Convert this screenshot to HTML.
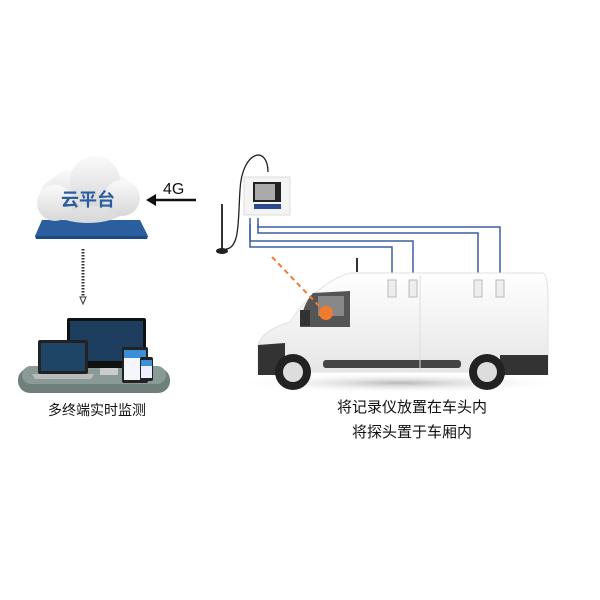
<!DOCTYPE html>
<html><head><meta charset="utf-8"><style>
html,body{margin:0;padding:0;background:#fff;}
svg{display:block;}
text{font-family:"Liberation Sans","Noto Sans CJK SC",sans-serif;}
</style></head><body>
<svg width="600" height="600" viewBox="0 0 600 600" xmlns="http://www.w3.org/2000/svg">
<defs>
<linearGradient id="cl" x1="0" y1="0" x2="0" y2="1"><stop offset="0" stop-color="#fafafa"/><stop offset="1" stop-color="#d8d8d8"/></linearGradient>
<linearGradient id="vb" x1="0" y1="0" x2="0" y2="1"><stop offset="0" stop-color="#ffffff"/><stop offset="1" stop-color="#e6e6e6"/></linearGradient>
<radialGradient id="sh" cx="0.5" cy="0.5" r="0.5"><stop offset="0" stop-color="#888" stop-opacity="0.6"/><stop offset="1" stop-color="#fff" stop-opacity="0"/></radialGradient>
</defs>
<polygon points="42,220 140,220 148,236 35,236" fill="#2b5e9e"/>
<polygon points="35,236 148,236 147,239 36,239" fill="#1d4a82"/>
<g fill="url(#cl)">
<ellipse cx="88" cy="196" rx="48" ry="27"/>
<circle cx="70" cy="190" r="20"/>
<circle cx="95" cy="181" r="25"/>
<circle cx="122" cy="198" r="18"/>
<circle cx="55" cy="203" r="18"/>
</g>
<text x="88" y="206" font-size="18" font-weight="bold" fill="#2b5e9e" text-anchor="middle">云平台</text>
<line x1="196" y1="200" x2="153" y2="200" stroke="#111" stroke-width="2.5"/>
<polygon points="146,200 156,194 156,206" fill="#111"/>
<text x="163" y="194" font-size="16" fill="#111">4G</text>
<line x1="83" y1="249" x2="83" y2="297" stroke="#333" stroke-width="3" stroke-dasharray="1.5,1.5"/>
<polygon points="80,297 86,297 83,304" fill="none" stroke="#333" stroke-width="1"/>
<rect x="18" y="368" width="152" height="25" rx="12" fill="#6f807c"/>
<rect x="22" y="366" width="144" height="18" rx="9" fill="#8a9a96"/>
<rect x="67" y="318" width="79" height="50" rx="2" fill="#111"/>
<rect x="70" y="321" width="73" height="40" fill="#1d3e5e"/>
<rect x="100" y="368" width="18" height="7" fill="#ccc"/>
<rect x="38" y="340" width="50" height="34" rx="2" fill="#222"/>
<rect x="41" y="343" width="44" height="28" fill="#1e4566"/>
<polygon points="32,374 94,374 91,379 35,379" fill="#bbb"/>
<rect x="122" y="347" width="26" height="36" rx="2" fill="#222"/>
<rect x="124" y="350" width="22" height="30" fill="#f4f6fa"/>
<rect x="124" y="350" width="22" height="8" fill="#3a8fd8"/>
<rect x="140" y="357" width="13" height="24" rx="2" fill="#222"/>
<rect x="141" y="360" width="11" height="18" fill="#eef"/>
<rect x="141" y="360" width="11" height="6" fill="#3a8fd8"/>
<text x="97" y="415" font-size="14" fill="#111" text-anchor="middle">多终端实时监测</text>
<line x1="222" y1="204" x2="222" y2="250" stroke="#333" stroke-width="2"/>
<ellipse cx="222" cy="251" rx="6" ry="3" fill="#222"/>
<path d="M226 249 C240 248 238 220 240 190 C242 150 268 145 268 172" fill="none" stroke="#222" stroke-width="1.3"/>
<rect x="244" y="177" width="46" height="38" fill="#f4f4f4" stroke="#ddd"/>
<rect x="253" y="182" width="28" height="20" fill="#222"/>
<rect x="255" y="184" width="20" height="16" fill="#aaa"/>
<rect x="254" y="204" width="27" height="5" fill="#2b4a90"/>
<g fill="none" stroke="#3c5fa3" stroke-width="1.5">
<polyline points="258,218 258,227 500,227 500,280"/>
<polyline points="258,224 258,233 478,233 478,280"/>
<polyline points="250,218 250,241 413,241 413,280"/>
<polyline points="250,224 250,247 392,247 392,280"/>
</g>
<ellipse cx="400" cy="383" rx="165" ry="10" fill="url(#sh)"/>
<path d="M350,273 L543,273 Q548,275 548,300 L548,372 L258,372 L258,345 Q262,330 290,322 L298,310 Q325,280 350,273 Z" fill="url(#vb)" stroke="#e2e2e2"/>
<path d="M258,345 L285,343 L285,375 L258,375 Z" fill="#333"/>
<rect x="500" y="355" width="48" height="20" fill="#333"/>
<rect x="323" y="360" width="138" height="8" rx="3" fill="#444"/>
<line x1="420" y1="275" x2="420" y2="370" stroke="#ddd"/>
<path d="M313,293 L350,291 L350,327 L300,327 Q302,305 313,293 Z" fill="#555"/>
<rect x="318" y="296" width="26" height="20" fill="#888"/>
<rect x="300" y="310" width="10" height="16" fill="#333"/>
<g fill="#eee" stroke="#bbb">
<rect x="388" y="280" width="8" height="17"/><rect x="409" y="280" width="8" height="17"/>
<rect x="474" y="280" width="8" height="17"/><rect x="496" y="280" width="8" height="17"/>
</g>
<line x1="357" y1="258" x2="357" y2="272" stroke="#333" stroke-width="2"/>
<circle cx="293" cy="372" r="18" fill="#222"/><circle cx="293" cy="372" r="10" fill="#ddd"/>
<circle cx="487" cy="372" r="18" fill="#222"/><circle cx="487" cy="372" r="10" fill="#ddd"/>
<line x1="272" y1="257" x2="322" y2="309" stroke="#f07b2e" stroke-width="2" stroke-dasharray="5,4"/>
<circle cx="326" cy="313" r="7" fill="#f07b2e"/>
<text x="412" y="412" font-size="15" fill="#111" text-anchor="middle">将记录仪放置在车头内</text>
<text x="412" y="437" font-size="15" fill="#111" text-anchor="middle">将探头置于车厢内</text>
</svg>
</body></html>
